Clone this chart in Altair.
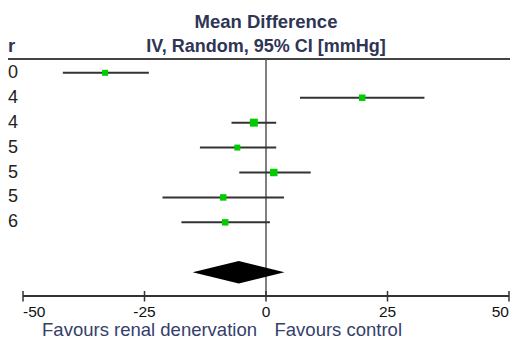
import altair as alt
import pandas as pd

# ---- data ----
row_labels = ["0", "4", "4", "5", "5", "5", "6"]          # visible tail of study labels
mean_diff = [-33.1, 19.8, -2.5, -5.9, 1.6, -8.8, -8.4]
ci_low = [-41.8, 7.0, -7.1, -13.6, -5.5, -21.3, -17.4]
ci_high = [-24.1, 32.6, 2.1, 2.1, 9.2, 3.7, 0.8]
weights = [11.3, 13.2, 20.1, 11.3, 17.6, 13.2, 13.2]
pooled_est = -5.6
pooled_low = -15.1
pooled_high = 3.8
x_ticks = [-50, -25, 0, 25, 50]
tick_labels = ["-50", "-25", "0", "25", "50"]
header_lines = ["Mean Difference", "IV, Random, 95% CI [mmHg]"]
left_header = "r"
favours_left = "Favours renal denervation"
favours_right = "Favours control"

# ---- layout ----
W, H = 502, 288
FONT = "Liberation Sans"
NAVY = "#2e3555"
FAV = "#34406a"
pooled_row = len(mean_diff) + 1
half_h = 0.45

xscale = alt.Scale(domain=[x_ticks[0], x_ticks[-1]], range=[15, 501])
yscale = alt.Scale(domain=[0, pooled_row], range=[64.8, 264.2])
NOAX = None

studies = pd.DataFrame({
    "row": list(range(len(mean_diff))),
    "label": row_labels,
    "md": mean_diff,
    "lo": ci_low,
    "hi": ci_high,
    "w": weights,
})
diamond = pd.DataFrame({
    "x": [pooled_low, pooled_est, pooled_high],
    "top": [pooled_row, pooled_row - half_h, pooled_row],
    "bot": [pooled_row, pooled_row + half_h, pooled_row],
})
ticks = pd.DataFrame({"t": x_ticks, "lab": tick_labels})
one = pd.DataFrame({"x0": [0]})
axis_df = pd.DataFrame({"a": [x_ticks[0]], "b": [x_ticks[-1]]})


def X(field):
    return alt.X(field, scale=xscale, axis=NOAX)


def Y(field):
    return alt.Y(field, scale=yscale, axis=NOAX)


header_rule = alt.Chart(one).mark_rule(color="#444", strokeWidth=2).encode(
    x=alt.value(0), x2=alt.value(W), y=alt.value(51))

zero_line = alt.Chart(one).mark_rule(color="#555", strokeWidth=1.5).encode(
    x=X("x0:Q"), y=alt.value(51), y2=alt.value(H))

axis_line = alt.Chart(axis_df).mark_rule(color="#333", strokeWidth=2).encode(
    x=X("a:Q"), x2="b:Q", y=alt.value(H))

tick_marks = alt.Chart(ticks).mark_rule(color="#333", strokeWidth=1.5).encode(
    x=X("t:Q"), y=alt.value(H - 5), y2=alt.value(H + 5.5))

LAB_Y = 308.5
lab_style = dict(baseline="alphabetic", font=FONT, fontSize=15.5, color="#111")
tl_first = alt.Chart(ticks.iloc[[0]]).mark_text(align="left", **lab_style).encode(
    x=X("t:Q"), y=alt.value(LAB_Y), text="lab:N")
tl_mid = alt.Chart(ticks.iloc[1:-1]).mark_text(align="center", **lab_style).encode(
    x=X("t:Q"), y=alt.value(LAB_Y), text="lab:N")
tl_last = alt.Chart(ticks.iloc[[-1]]).mark_text(align="right", **lab_style).encode(
    x=X("t:Q"), y=alt.value(LAB_Y), text="lab:N")

ci = alt.Chart(studies).mark_rule(color="#333", strokeWidth=2).encode(
    x=X("lo:Q"), x2="hi:Q", y=Y("row:Q"))

squares = alt.Chart(studies).mark_square(color="#00cc00", opacity=1).encode(
    x=X("md:Q"), y=Y("row:Q"),
    size=alt.Size("w:Q", scale=alt.Scale(domain=[0, max(weights)], range=[0, 64]), legend=None),
)

dia = alt.Chart(diamond).mark_area(color="black", opacity=1).encode(
    x=X("x:Q"), y=Y("top:Q"), y2="bot:Q")

labels = alt.Chart(studies).mark_text(align="left", baseline="middle", font=FONT,
                                      fontSize=18, color="#222").encode(
    x=alt.value(0), y=Y("row:Q"), text="label:N")

hdr_df = pd.DataFrame({"x0": [0, 0], "t": header_lines})
hdr1 = alt.Chart(hdr_df.iloc[[0]]).mark_text(align="center", baseline="alphabetic", font=FONT,
                                             fontSize=18.5, fontWeight="bold", color=NAVY).encode(
    x=X("x0:Q"), y=alt.value(20.4), text="t:N")
hdr2 = alt.Chart(hdr_df.iloc[[1]]).mark_text(align="center", baseline="alphabetic", font=FONT,
                                             fontSize=18, fontWeight="bold", color=NAVY).encode(
    x=X("x0:Q"), y=alt.value(44.2), text="t:N")

lh = alt.Chart(pd.DataFrame({"t": [left_header]})).mark_text(
    align="left", baseline="alphabetic", font=FONT, fontSize=18.5, fontWeight="bold", color=NAVY
).encode(x=alt.value(0), y=alt.value(44.2), text="t:N")

FAV_Y = 327.5
fav_df = pd.DataFrame({"x0": [0], "l": [favours_left], "r": [favours_right]})
fav_l = alt.Chart(fav_df).mark_text(align="right", baseline="alphabetic", font=FONT,
                                    fontSize=18.5, color=FAV, dx=-9).encode(
    x=X("x0:Q"), y=alt.value(FAV_Y), text="l:N")
fav_r = alt.Chart(fav_df).mark_text(align="left", baseline="alphabetic", font=FONT,
                                    fontSize=18.5, color=FAV, dx=8.5).encode(
    x=X("x0:Q"), y=alt.value(FAV_Y), text="r:N")

chart = alt.layer(
    header_rule, zero_line, axis_line, tick_marks, tl_first, tl_mid, tl_last,
    ci, squares, dia, labels, hdr1, hdr2, lh, fav_l, fav_r
).properties(
    width=W, height=H,
    padding={"left": 0, "top": 0, "right": 0, "bottom": 45},
    autosize=alt.AutoSizeParams(type="none"),
    background="white",
).configure_view(stroke=None)

chart.save("out.html", embed_options={"renderer": "svg", "actions": False})
